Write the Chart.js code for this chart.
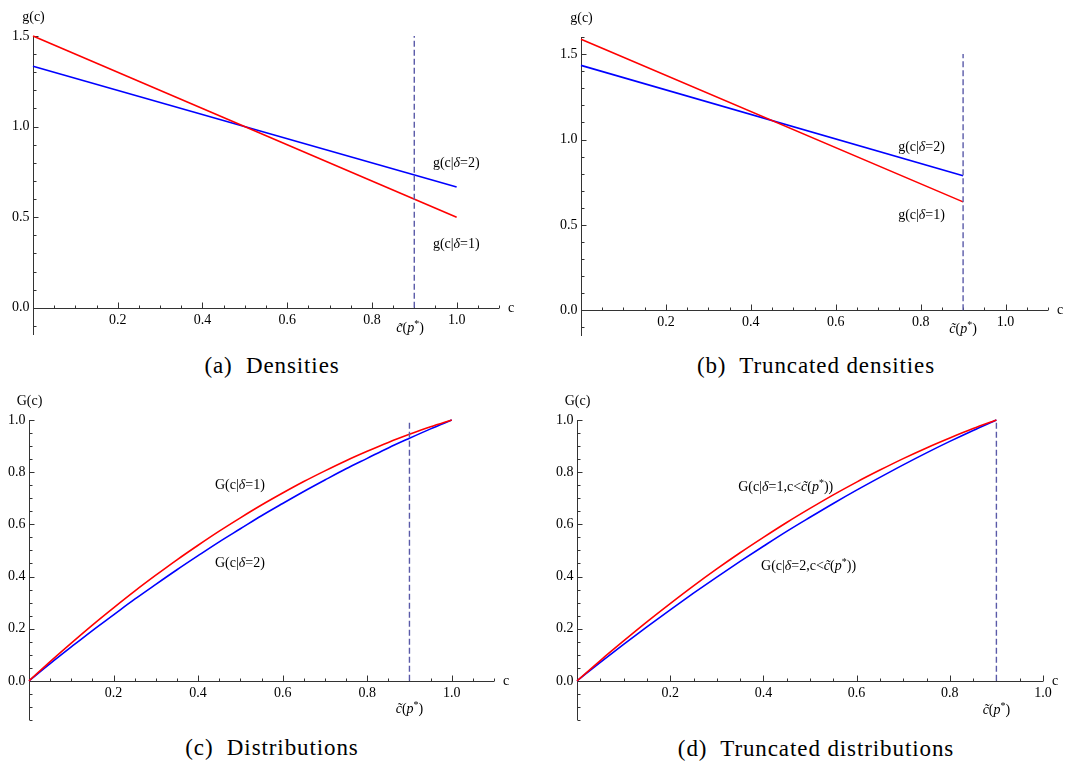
<!DOCTYPE html>
<html>
<head>
<meta charset="utf-8">
<script src="https://cdn.jsdelivr.net/npm/chart.js@4.4.1/dist/chart.umd.min.js"></script>
<style>
  body { margin: 0; background: #fff; }
  #wrap { position: relative; width: 1088px; height: 764px; }
  canvas { position: absolute; }
  .cap { position: absolute; width: 544px; text-align: center; font-family: 'Liberation Serif', serif; font-size: 23px; letter-spacing: 0.9px; color: #000; }
</style>
</head>
<body>
<div id="wrap">
  <canvas id="chartA" width="544" height="345" style="left:0;top:0"></canvas>
  <canvas id="chartB" width="544" height="345" style="left:544px;top:0"></canvas>
  <canvas id="chartC" width="544" height="345" style="left:0;top:390px"></canvas>
  <canvas id="chartD" width="544" height="345" style="left:544px;top:390px"></canvas>
  <div class="cap" style="left:0;top:353px">(a)&nbsp; Densities</div>
  <div class="cap" style="left:544px;top:353px">(b)&nbsp; Truncated densities</div>
  <div class="cap" style="left:0;top:735px">(c)&nbsp; Distributions</div>
  <div class="cap" style="left:544px;top:736px">(d)&nbsp; Truncated distributions</div>
</div>
<script>
// cutoff c~(p*)
var cTilde = 0.9;

// (a) densities, straight lines
var cEnds = [0, 1.0];
var g1 = [1.5, 0.5];
var g2 = [1.333, 0.667];

// (b) truncated densities
var cEndsT = [0, 0.9];
var g1T = [1.587, 0.635];
var g2T = [1.434, 0.788];

// (c) distributions
var cGrid = [0, 0.05, 0.1, 0.15, 0.2, 0.25, 0.3, 0.35, 0.4, 0.45, 0.5, 0.55, 0.6, 0.65, 0.7, 0.75, 0.8, 0.85, 0.9, 0.95, 1.0];
var G1 = [0, 0.074, 0.145, 0.214, 0.28, 0.344, 0.405, 0.464, 0.52, 0.574, 0.625, 0.674, 0.72, 0.764, 0.805, 0.844, 0.88, 0.914, 0.945, 0.974, 1.0];
var G2 = [0, 0.066, 0.13, 0.193, 0.253, 0.313, 0.37, 0.426, 0.48, 0.533, 0.583, 0.633, 0.68, 0.726, 0.77, 0.813, 0.853, 0.893, 0.93, 0.966, 1.0];

// (d) truncated distributions
var cGridT = [0, 0.05, 0.1, 0.15, 0.2, 0.25, 0.3, 0.35, 0.4, 0.45, 0.5, 0.55, 0.6, 0.65, 0.7, 0.75, 0.8, 0.85, 0.9];
var G1T = [0, 0.078, 0.153, 0.226, 0.296, 0.364, 0.429, 0.491, 0.55, 0.607, 0.661, 0.713, 0.762, 0.808, 0.852, 0.893, 0.931, 0.967, 1.0];
var G2T = [0, 0.071, 0.14, 0.207, 0.272, 0.336, 0.398, 0.458, 0.516, 0.573, 0.627, 0.68, 0.731, 0.78, 0.828, 0.874, 0.918, 0.96, 1.0];

// tick labels
var xTicks = [0.2, 0.4, 0.6, 0.8, 1.0];
var yTicksDens = [0.0, 0.5, 1.0, 1.5];
var yTicksDist = [0.0, 0.2, 0.4, 0.6, 0.8, 1.0];

function pts(xs, ys) {
  var out = [];
  for (var i = 0; i < xs.length; i++) out.push({x: xs[i], y: ys[i]});
  return out;
}

var serif = "'Liberation Serif', serif";

// text with italic / superscript pieces
function drawRich(ctx, segs, x, y, size, align) {
  var w = 0, i;
  function fontOf(s) {
    if (s == 'i') return 'italic ' + size + 'px ' + serif;
    if (s == 'sup') return Math.round(size * 0.7) + 'px ' + serif;
    return size + 'px ' + serif;
  }
  for (i = 0; i < segs.length; i++) { ctx.font = fontOf(segs[i][1]); w += ctx.measureText(segs[i][0]).width; }
  var px = align == 'center' ? x - w / 2 : x;
  ctx.textAlign = 'left';
  ctx.textBaseline = 'alphabetic';
  for (i = 0; i < segs.length; i++) {
    ctx.font = fontOf(segs[i][1]);
    var dy = segs[i][1] == 'sup' ? -size * 0.35 : 0;
    ctx.fillText(segs[i][0], px, y + size * 0.33 + dy);
    px += ctx.measureText(segs[i][0]).width;
  }
}

var mathAxes = {
  id: 'mathAxes',
  beforeDatasetsDraw: function(chart) {
    var o = chart.options.plugins.mathAxes;
    var ctx = chart.ctx, xs = chart.scales.x, ys = chart.scales.y;
    var x0 = Math.round(xs.getPixelForValue(0)) + 0.5;
    var y0 = Math.round(ys.getPixelForValue(0)) + 0.5;
    ctx.save();
    ctx.strokeStyle = '#333';
    ctx.lineWidth = 1;
    ctx.beginPath();
    ctx.moveTo(x0, y0); ctx.lineTo(xs.getPixelForValue(o.xEnd), y0);
    ctx.moveTo(x0, ys.getPixelForValue(ys.min)); ctx.lineTo(x0, ys.getPixelForValue(o.yEnd));
    var i, v, p, major;
    var n = Math.round(o.xEnd / o.xMinor);
    for (i = 1; i <= n; i++) {
      v = i * o.xMinor;
      major = Math.abs(v / o.xMajor - Math.round(v / o.xMajor)) < 1e-6;
      p = Math.round(xs.getPixelForValue(v)) + 0.5;
      ctx.moveTo(p, y0); ctx.lineTo(p, y0 - (major ? 6 : 3));
    }
    var n0 = Math.round(ys.min / o.yMinor), n1 = Math.round(o.yEnd / o.yMinor);
    for (i = n0; i <= n1; i++) {
      if (i == 0) continue;
      v = i * o.yMinor;
      major = Math.abs(v / o.yMajor - Math.round(v / o.yMajor)) < 1e-6;
      p = Math.round(ys.getPixelForValue(v)) + 0.5;
      ctx.moveTo(x0, p); ctx.lineTo(x0 + (major ? 5 : 3), p);
    }
    ctx.stroke();

    ctx.fillStyle = '#000';
    ctx.font = '14px ' + serif;
    ctx.textAlign = 'center';
    ctx.textBaseline = 'middle';
    o.xTicks.forEach(function(t) { ctx.fillText(t.toFixed(1), xs.getPixelForValue(t), y0 + 12); });
    ctx.textAlign = 'right';
    o.yTicks.forEach(function(t) { ctx.fillText(t.toFixed(1), x0 - 4, ys.getPixelForValue(t)); });
    ctx.textAlign = 'left';
    ctx.fillText('c', xs.getPixelForValue(o.xEnd) + 9, y0);
    ctx.textAlign = 'center';
    ctx.fillText(o.yName, x0, ys.getPixelForValue(o.yEnd) - 19);
    ctx.restore();
  },
  afterDraw: function(chart) {
    var o = chart.options.plugins.mathAxes;
    var ctx = chart.ctx, xs = chart.scales.x, ys = chart.scales.y;
    ctx.save();
    ctx.fillStyle = '#000';
    o.notes.forEach(function(nt) {
      drawRich(ctx, nt.segs, xs.getPixelForValue(nt.x), ys.getPixelForValue(nt.y), 14, nt.align || 'left');
    });
    ctx.restore();
  }
};

var cLabel = [['c\u0303', 'i'], ['(', ''], ['p', 'i'], ['*', 'sup'], [')', '']];
function gLabel(k) { return [['g(c|', ''], ['\u03b4', 'i'], ['=' + k + ')', '']]; }
function GLabel(k) { return [['G(c|', ''], ['\u03b4', 'i'], ['=' + k + ')', '']]; }
function GTLabel(k) { return [['G(c|', ''], ['\u03b4', 'i'], ['=' + k + ',c<', ''], ['c\u0303', 'i'], ['(', ''], ['p', 'i'], ['*', 'sup'], ['))', '']]; }

function makeChart(id, pad, xMax, yMin, yMax, sets, dashTop, axes) {
  var ds = [{
    data: pts([cTilde, cTilde], [0, dashTop]),
    borderColor: '#5a5aa8', borderWidth: 1.4, borderDash: [6, 3], pointRadius: 0, clip: false
  }];
  sets.forEach(function(s) {
    ds.push({ data: s.data, borderColor: s.color, borderWidth: 1.6, pointRadius: 0, cubicInterpolationMode: 'monotone', clip: 4 });
  });
  return new Chart(id, {
    type: 'line',
    data: { datasets: ds },
    options: {
      responsive: false,
      animation: false,
      layout: { padding: pad },
      scales: {
        x: { type: 'linear', min: 0, max: xMax, display: false },
        y: { type: 'linear', min: yMin, max: yMax, display: false }
      },
      plugins: { legend: { display: false }, tooltip: { enabled: false }, mathAxes: axes }
    },
    plugins: [mathAxes]
  });
}

makeChart('chartA', {left: 33, right: 45, top: 36, bottom: 10}, 1.1, -0.15, 1.5,
  [{data: pts(cEnds, g1), color: '#ff0000'}, {data: pts(cEnds, g2), color: '#0000ff'}], 1.5,
  { xEnd: 1.1, yEnd: 1.5, xMajor: 0.2, xMinor: 0.05, yMajor: 0.5, yMinor: 0.1, xTicks: xTicks, yTicks: yTicksDens, yName: 'g(c)',
    notes: [ {x: 0.944, y: 0.805, segs: gLabel(2)}, {x: 0.944, y: 0.358, segs: gLabel(1)}, {x: 0.89, y: -0.11, segs: cLabel, align: 'center'} ] });

makeChart('chartB', {left: 37, right: 40, top: 37, bottom: 9}, 1.1, -0.15, 1.6,
  [{data: pts(cEndsT, g1T), color: '#ff0000'}, {data: pts(cEndsT, g2T), color: '#0000ff'}], 1.5,
  { xEnd: 1.1, yEnd: 1.6, xMajor: 0.2, xMinor: 0.05, yMajor: 0.5, yMinor: 0.1, xTicks: xTicks, yTicks: yTicksDens, yName: 'g(c)',
    notes: [ {x: 0.747, y: 0.962, segs: gLabel(2)}, {x: 0.747, y: 0.562, segs: gLabel(1)}, {x: 0.9, y: -0.105, segs: cLabel, align: 'center'} ] });

makeChart('chartC', {left: 29, right: 50, top: 30, bottom: 15}, 1.1, -0.15, 1.0,
  [{data: pts(cGrid, G1), color: '#ff0000'}, {data: pts(cGrid, G2), color: '#0000ff'}], 1.0,
  { xEnd: 1.1, yEnd: 1.0, xMajor: 0.2, xMinor: 0.05, yMajor: 0.2, yMinor: 0.05, xTicks: xTicks, yTicks: yTicksDist, yName: 'G(c)',
    notes: [ {x: 0.44, y: 0.755, segs: GLabel(1)}, {x: 0.44, y: 0.453, segs: GLabel(2)}, {x: 0.9, y: -0.105, segs: cLabel, align: 'center'} ] });

makeChart('chartD', {left: 33, right: 45, top: 30, bottom: 15}, 1.0, -0.15, 1.0,
  [{data: pts(cGridT, G1T), color: '#ff0000'}, {data: pts(cGridT, G2T), color: '#0000ff'}], 1.0,
  { xEnd: 1.0, yEnd: 1.0, xMajor: 0.2, xMinor: 0.05, yMajor: 0.2, yMinor: 0.05, xTicks: xTicks, yTicks: yTicksDist, yName: 'G(c)',
    notes: [ {x: 0.346, y: 0.747, segs: GTLabel(1)}, {x: 0.395, y: 0.442, segs: GTLabel(2)}, {x: 0.9, y: -0.108, segs: cLabel, align: 'center'} ] });
</script>
</body>
</html>
